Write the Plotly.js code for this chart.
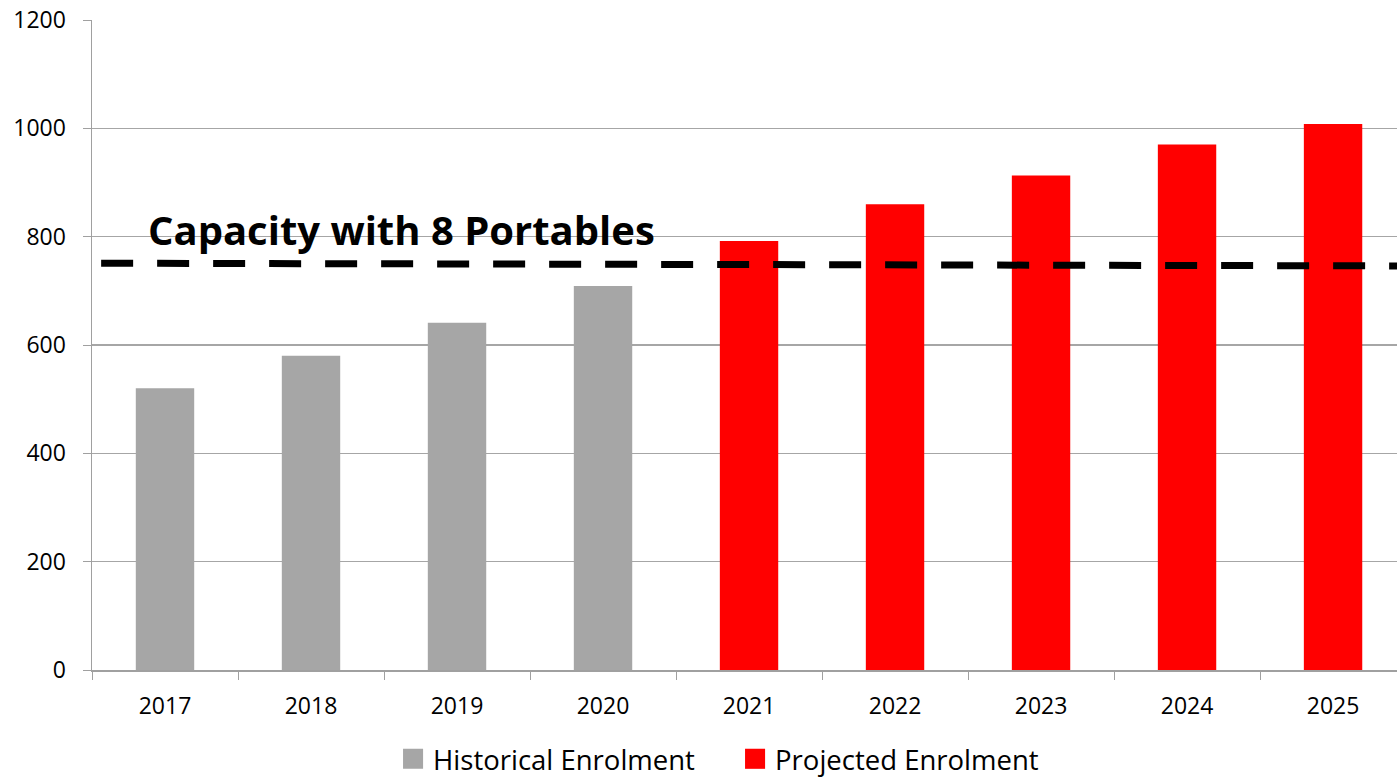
<!DOCTYPE html>
<html>
<head>
<meta charset="utf-8">
<script src="https://cdn.plot.ly/plotly-3.0.1.min.js"></script>
<style>html,body{margin:0;padding:0;background:#fff;}#chart{width:1397px;height:779px;}</style>
</head>
<body>
<div id="chart"></div>
<script>
var years = ["2017","2018","2019","2020","2021","2022","2023","2024","2025"];
var historical = [520, 580, 641, 709, null, null, null, null, null];
var projected = [null, null, null, null, 792, 860, 913, 970, 1008];
var capacity = [751, 746];
var capacityLabel = "Capacity with 8 Portables";

var font = "'Open Sans', Lato, sans-serif";

var traces = [
  {type:"bar", name:"Historical Enrolment", x:years, y:historical, width:0.4,
   marker:{color:"#a6a6a6"}, hoverinfo:"x+y"},
  {type:"bar", name:"Projected Enrolment", x:years, y:projected, width:0.4,
   marker:{color:"#ff0000"}, hoverinfo:"x+y"}
];

var layout = {
  width:1397, height:779,
  margin:{l:92, r:0, t:20, b:109, autoexpand:false},
  paper_bgcolor:"#fff", plot_bgcolor:"#fff",
  barmode:"overlay",
  showlegend:true,
  font:{family:font, size:20, color:"#000"},
  xaxis:{type:"category", range:[-0.5, 8.438], showgrid:false,
         showline:true, linecolor:"#a0a0a0", linewidth:1.5,
         ticks:"outside", tickson:"boundaries", ticklen:8, tickcolor:"#a0a0a0",
         ticklabelstandoff:15,
         tickfont:{family:font, size:23, color:"#000"}, fixedrange:true},
  yaxis:{range:[0,1200], dtick:200, showgrid:true, gridcolor:"#a6a6a6", gridwidth:1.2,
         showline:true, linecolor:"#a0a0a0", linewidth:1.5, zeroline:false,
         ticks:"outside", ticklen:8, tickcolor:"#a0a0a0",
         ticklabelstandoff:12,
         tickfont:{family:font, size:23, color:"#000"}, fixedrange:true},
  legend:{orientation:"h", x:0.2307, xanchor:"left", y:-0.1745, yanchor:"bottom",
          font:{family:font, size:27.5, color:"#000"}, itemwidth:30,
          entrywidth:297, entrywidthmode:"pixels", traceorder:"normal"},
  shapes:[{type:"line", xref:"paper", yref:"y", x0:0.007, x1:1, y0:capacity[0], y1:capacity[1],
           line:{color:"#000", width:7, dash:"32px,24px"}}],
  annotations:[{xref:"paper", yref:"y", x:0.237, y:814, text:"<b>"+capacityLabel+"</b>",
                showarrow:false, xanchor:"center", yanchor:"middle",
                font:{family:font, size:40, color:"#000"}}]
};

Plotly.newPlot("chart", traces, layout, {displayModeBar:false, staticPlot:true}).then(function(){
  document.querySelectorAll("#chart .legendpoints path").forEach(function(p){
    p.setAttribute("transform", "translate(20,0) scale(1.67)");
  });
});
</script>
</body>
</html>
